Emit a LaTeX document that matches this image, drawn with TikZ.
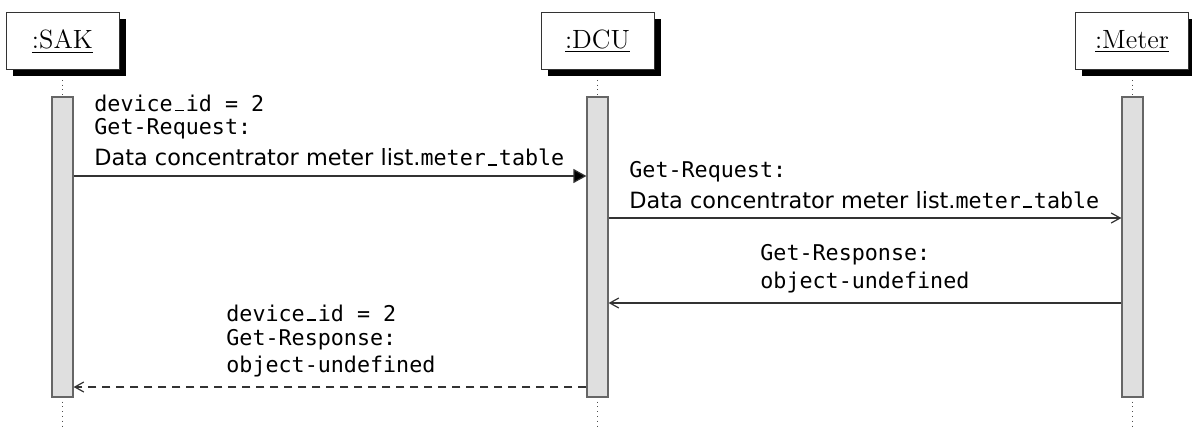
\documentclass[tikz,border=0pt]{standalone}
\usepackage{fontspec}
\usetikzlibrary{arrows.meta,shadows}
\newfontfamily\msgsansfam{DejaVu Sans}
\newfontfamily\msgmonofam{DejaVu Sans Mono}
\newcommand\msgS[1]{{\msgsansfam\fontsize{11.2}{13}\selectfont #1}}
\newcommand\msgM[1]{{\msgmonofam\fontsize{10.85}{13}\selectfont #1}}
% short underscore sitting on the baseline, one monospace cell wide
\newcommand\usc{\makebox[0.602em]{\rule{0.42em}{0.07em}}}

\begin{document}
\begin{tikzpicture}[x=0.5pt,y=-0.5pt,
  thread/.style={draw=black!80, line width=0.5pt, fill=white,
    minimum width=56.5pt, minimum height=28.5pt, inner sep=0pt,
    font=\fontsize{13.2}{15}\selectfont,
    drop shadow={shadow xshift=3.25pt, shadow yshift=-3pt, fill=black, opacity=1}},
  activity/.style={draw=black!60, line width=0.6pt, fill=gray!25,
    minimum width=10.5pt, minimum height=150pt, inner sep=0pt},
  lifeline/.style={dotted, draw=black!70, line width=0.4pt},
  msgline/.style={draw=black!80, line width=0.6pt},
  call/.style={msgline, -{Triangle[length=6.5pt,width=7pt,fill=black]}},
  reply/.style={msgline, -{Straight Barb[length=4.5pt,width=5pt]}},
  ret/.style={reply, dash pattern=on 4pt off 3pt},
  lbl/.style={anchor=base west, inner sep=0pt},
]
\useasboundingbox (0,0) rectangle (1192,427);
\coordinate (bottom) at (0,427);

% lifelines (behind everything)
\coordinate (sakc) at (62.5,41.5);
\coordinate (dcuc) at (597.5,41.5);
\coordinate (meterc) at (1132,41.5);
\draw[lifeline] (sakc) -- (sakc |- bottom);
\draw[lifeline] (dcuc) -- (dcuc |- bottom);
\draw[lifeline] (meterc) -- (meterc |- bottom);

% participants
\node[thread] (sak) at (sakc) {\underline{:SAK}};
\node[thread] (dcu) at (dcuc) {\underline{:DCU}};
\node[thread] (meter) at (meterc) {\underline{:Meter}};

% activations
\node[activity] (sakbar) at (62.5,247) {};
\node[activity] (dcubar) at (597.5,247) {};
\node[activity] (meterbar) at (1132.5,247) {};

% message heights
\coordinate (y1) at (0,176);
\coordinate (y2) at (0,218);
\coordinate (y3) at (0,303);
\coordinate (y4) at (0,387);

% messages
\draw[call] (sakbar.east |- y1) -- (dcubar.west |- y1);
\draw[reply] (dcubar.east |- y2) -- (meterbar.west |- y2);
\draw[reply] (meterbar.west |- y3) -- (dcubar.east |- y3);
\draw[ret] (dcubar.west |- y4) -- (sakbar.east |- y4);

% message labels
\node[lbl] (m1a) at (94,111.5) {\msgM{device\usc id = 2}};
\node[lbl] (m1b) at (94,135) {\msgM{Get-Request:}};
\node[lbl] (m1c) at (94,166) {\msgS{Data concentrator meter list.}\msgM{meter\usc table}};

\node[lbl] (m2a) at (629,177) {\msgM{Get-Request:}};
\node[lbl] (m2b) at (629,208) {\msgS{Data concentrator meter list.}\msgM{meter\usc table}};

\node[lbl] (m3a) at (760,260) {\msgM{Get-Response:}};
\node[lbl] (m3b) at (760,288) {\msgM{object-undefined}};

\node[lbl] (m4a) at (226,321) {\msgM{device\usc id = 2}};
\node[lbl] (m4b) at (226,345) {\msgM{Get-Response:}};
\node[lbl] (m4c) at (226,372) {\msgM{object-undefined}};
\end{tikzpicture}
\end{document}
